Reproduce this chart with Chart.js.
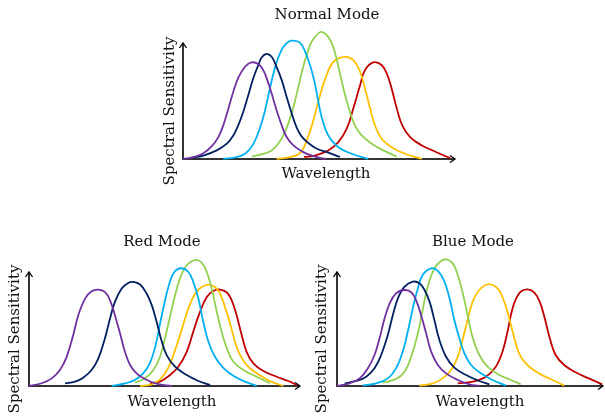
<!DOCTYPE html>
<html>
<head>
<meta charset="utf-8">
<script src="https://cdn.jsdelivr.net/npm/chart.js@4.4.1/dist/chart.umd.min.js"></script>
<style>
  html, body { margin: 0; padding: 0; background: #fff; }
  #wrap { position: relative; width: 605px; height: 416px; }
  canvas { position: absolute; left: 0; top: 0; }
</style>
</head>
<body>
<div id="wrap">
  <canvas id="normalChart" width="605" height="416"></canvas>
  <canvas id="redChart" width="605" height="416"></canvas>
  <canvas id="blueChart" width="605" height="416"></canvas>
</div>
<script>
// wavelength (0-100 along the axis), sensitivity (0-100 = top of axis)
const normalPurple = [[0,0],[3.8,1.6],[7.5,5],[10.5,10.8],[13,18.9],[14.8,29],[16.7,43.5],[18.5,58],[20.3,70],[22.8,79.5],[25.2,83.3],[27.7,81.8],[29.5,76.6],[31,68],[32.6,56.5],[34.4,42],[36.3,29],[38.1,18.9],[40.6,11.7],[44.2,5.9],[47.9,2.4],[52.5,0]];
const normalNavy = [[2.6,1],[7.5,3],[12.4,7.4],[16.1,13.2],[18.5,20.3],[20.3,29],[22.2,41],[24,55],[25.9,70],[27.7,81],[28.9,87.5],[30.7,90.7],[32.6,88.1],[34.4,79.5],[36.3,68],[38.1,53.5],[40,39.1],[41.8,27],[43.6,19.5],[46.1,13.7],[49.2,8.8],[53.4,5.5],[57.7,1.8]];
const normalCyan = [[14.8,0.2],[19.7,1.6],[22.8,4.5],[25.3,10.8],[27.3,20.3],[29.2,33.3],[31,50.6],[32.8,69.4],[34.7,85.3],[36.9,96.8],[39.3,101.7],[40.5,102],[43,100.3],[44.9,92.5],[46.7,81],[48.5,65],[49.7,50],[51,36],[53.4,20.3],[57.1,10.2],[62,4.5],[68.1,0]];
const normalGreen = [[25.3,2.2],[29.5,4.5],[32.6,7.4],[35,13.2],[36.9,20.3],[38.7,30.5],[40.6,44.8],[42.4,62.2],[44.2,79.5],[46.1,93.9],[47.3,101],[50.5,109.5],[52.8,106.9],[54.7,99.7],[56.1,89.6],[57.7,73.8],[59.6,55],[61.4,40.5],[63.2,29],[65.7,20.3],[69.4,13.2],[73.6,7.4],[78.6,2.2]];
const normalOrange = [[34.4,0.2],[39.3,1.6],[43,5],[45.5,16],[48,34],[50.4,55],[52.9,73],[55.6,84.5],[59.6,88.1],[62.6,85.3],[65.1,75.2],[66.9,60.8],[68.8,43.5],[70.6,29],[73,17.5],[76.7,10.2],[81.6,4.5],[87.8,0]];
const normalRed = [[44.5,1.8],[48.5,3],[53.4,7.4],[57.1,14.5],[60.2,26.1],[62.6,43.5],[65.1,63.6],[66.9,76.6],[70,83.3],[73,81],[74.9,73.8],[76.7,60.8],[78.6,43.5],[80.6,29],[83.5,18.9],[87.8,11.7],[92.6,6.5],[98.2,0.7]];

const redPurple = [[0,0],[4.7,2.4],[8.4,6.7],[11.4,14],[13.9,25.6],[16.3,44.6],[18.2,62.1],[20.7,76.7],[23.1,83.1],[25.6,84.6],[28,82.5],[29.9,75.2],[31.7,62.1],[33.6,46.1],[35.4,30],[37.3,18.4],[39.7,11.1],[42.8,6.1],[47,2],[52.7,0]];
const redNavy = [[13.3,2.4],[17,3.8],[20,7.3],[23.1,14],[25.6,24.2],[28,41.7],[29.9,59.2],[31.7,73.8],[34.2,85.5],[36.6,90.4],[38.5,91.3],[41,89],[43.4,81.1],[45.3,70.9],[47.1,56.3],[48.7,41.5],[50.8,27.1],[53.9,16.9],[58.2,9.6],[62.5,4.4],[66.8,0.9]];
const redCyan = [[30.5,0],[35.4,2.2],[39.1,5.4],[42.2,11.3],[44.6,20.1],[46.7,35.5],[48.3,54],[50,73],[51.7,89],[53.5,99.5],[56,103.3],[58.8,100],[60.6,91.3],[62.5,76.7],[64.3,56.3],[66.2,38.8],[68.6,25.6],[71.7,16],[75.4,9],[79.7,3.8],[84,0]];
const redGreen = [[39.1,2.9],[42.8,6.7],[45.9,14],[48.3,25.5],[50.5,45],[53.3,73.8],[55.7,94.2],[58.2,105.9],[61.3,110.5],[63.7,108.2],[65.6,100],[67.4,85.5],[69.3,65],[71.1,47.5],[73,33],[75.4,21.3],[79.1,14],[84,8.1],[88.9,2.4]];
const redOrange = [[41,0],[45.3,1.5],[48.3,5.5],[51.4,16],[53.9,31.5],[56.3,49],[58.8,68],[61.3,81.1],[63.7,86.9],[66.2,89],[68.6,86.9],[70.5,81.1],[72.3,69.4],[74.2,54.9],[76,38.8],[77.9,27.1],[80.3,18.4],[84,11.1],[88.9,4.4],[93.8,0]];
const redRed = [[44.6,2.4],[48.3,3.8],[52,9.6],[55.1,16.9],[58.2,30],[60.6,47.5],[63.1,65],[65.6,78.1],[68,83.4],[70.5,84.6],[73,82],[74.8,75.2],[76.6,62.1],[78.5,44.6],[80.3,30],[82.8,19.9],[86.5,13.1],[91.4,8.1],[95.7,4.4],[98.8,0.9]];

const bluePurple = [[0,0],[4.7,2.3],[8.5,6.7],[11.6,15.5],[14.1,27.2],[16,41.8],[17.9,59.4],[19.8,72.5],[22.2,81.3],[25.4,84.2],[27.9,82.2],[29.7,75.4],[31.6,62.3],[33.5,46.2],[35.4,30.1],[37.9,18.4],[41,11.1],[45.4,5.3],[49.8,1.5],[53.5,0]];
const blueNavy = [[2.9,2.3],[7.2,4.4],[11,8.2],[14.1,15.5],[16.6,27.2],[19.1,44.7],[21,62.3],[22.9,76.9],[25.4,87.1],[28.5,91.5],[31,90.1],[32.9,84.2],[34.8,74],[36.6,57.9],[38.5,40.4],[41,25.7],[44.1,16.1],[48.5,9.6],[53.5,4.4],[57.3,1.5]];
const blueCyan = [[9.7,0.3],[14.7,2.3],[19.1,6.7],[22.2,15.5],[24.7,30.1],[26.6,47.6],[28.5,68.1],[30.4,85.7],[32.2,97.4],[35.4,103.2],[37.9,100.9],[40.4,91.5],[42.3,76.9],[44.1,57.9],[46,41.8],[47.9,28.7],[50.4,18.4],[54.1,11.1],[58.5,5.3],[63.5,0.3]];
const blueGreen = [[17.2,2.9],[22.2,6.1],[25.4,12.5],[27.9,25.7],[30.4,46.2],[32.2,66.7],[34.1,87.1],[36.6,103.2],[39.1,109.6],[41,111.1],[43.5,107.6],[45.4,97.4],[47.2,82.2],[49.1,62.3],[51,42.4],[53.5,27.2],[56.6,16.9],[61,9.6],[65.4,5.3],[69.1,1.5]];
const blueOrange = [[31,0.3],[36,2.3],[39.7,6.7],[42.9,14],[45.4,25.7],[47.2,40.4],[49.1,57.9],[51,74],[53.5,84.2],[56.6,89.2],[59.7,87.1],[61.6,81.3],[63.5,69.6],[65.4,53.5],[67.2,37.4],[69.1,25.7],[72.3,16.9],[76.6,10.2],[81,5.3],[85.4,0.3]];
const blueRed = [[45.4,2.3],[51,3.8],[56,8.2],[59.7,16.9],[62.2,30.1],[64.1,47.6],[66,68.1],[68.5,81.3],[71.4,84.8],[74.1,82.2],[76.2,74],[78.1,59.4],[80,41.8],[82.2,27.2],[85.4,18.4],[89.7,12],[94.7,6.7],[99.7,1.5]];

const seriesColors = ['#7030A0', '#002060', '#00B0F0', '#92D050', '#FFC000', '#C00000'];
const panelTitles = ['Normal Mode', 'Red Mode', 'Blue Mode'];
const xLabel = 'Wavelength';
const yLabel = 'Spectral Sensitivity';

const FONT = '15px "DejaVu Serif", serif';

// axes with arrow heads plus the three texts of a panel
const sketchAxes = {
  id: 'sketchAxes',
  beforeDatasetsDraw(chart, args, opts) {
    const {ctx, chartArea: a} = chart;
    ctx.save();
    ctx.strokeStyle = '#333';
    ctx.lineWidth = 2;
    ctx.beginPath();
    ctx.moveTo(a.left, a.top + 1);
    ctx.lineTo(a.left, a.bottom);
    ctx.lineTo(a.right - 1, a.bottom);
    ctx.stroke();
    ctx.strokeStyle = '#000';
    ctx.lineWidth = 1.3;
    ctx.beginPath();
    ctx.moveTo(a.left - 3.5, a.top + 5);
    ctx.lineTo(a.left, a.top);
    ctx.lineTo(a.left + 3.5, a.top + 5);
    ctx.moveTo(a.right - 5, a.bottom - 3.5);
    ctx.lineTo(a.right, a.bottom);
    ctx.lineTo(a.right - 5, a.bottom + 3.5);
    ctx.stroke();

    ctx.fillStyle = '#111';
    ctx.font = FONT;
    ctx.textAlign = 'center';
    ctx.textBaseline = 'middle';
    ctx.fillText(opts.title, opts.titlePos[0], opts.titlePos[1]);
    ctx.fillText(xLabel, opts.xPos[0], opts.xPos[1]);
    ctx.translate(opts.yPos[0], opts.yPos[1]);
    ctx.rotate(-Math.PI / 2);
    ctx.fillText(yLabel, 0, 0);
    ctx.restore();
  }
};

function makeChart(id, curves, padding, texts) {
  const datasets = curves.map((pts, i) => ({
    data: pts.map(p => ({x: p[0], y: p[1]})),
    borderColor: seriesColors[i],
    borderWidth: 1.8,
    pointRadius: 0,
    tension: 0.4,
    fill: false,
    clip: false
  }));
  return new Chart(document.getElementById(id), {
    type: 'line',
    data: {datasets},
    options: {
      responsive: false,
      animation: false,
      devicePixelRatio: 1,
      events: [],
      layout: {padding},
      scales: {
        x: {type: 'linear', min: 0, max: 100, display: false},
        y: {min: 0, max: 100, display: false}
      },
      plugins: {
        legend: {display: false},
        tooltip: {enabled: false},
        sketchAxes: texts
      }
    },
    plugins: [sketchAxes]
  });
}

makeChart('normalChart',
  [normalPurple, normalNavy, normalCyan, normalGreen, normalOrange, normalRed],
  {left: 183, top: 43, right: 150, bottom: 257},
  {title: panelTitles[0], titlePos: [327, 15], xPos: [326, 174], yPos: [170, 111]});

makeChart('redChart',
  [redPurple, redNavy, redCyan, redGreen, redOrange, redRed],
  {left: 29, top: 272, right: 305, bottom: 30},
  {title: panelTitles[1], titlePos: [162, 242], xPos: [172, 402], yPos: [15, 339]});

makeChart('blueChart',
  [bluePurple, blueNavy, blueCyan, blueGreen, blueOrange, blueRed],
  {left: 337, top: 272, right: 2, bottom: 30},
  {title: panelTitles[2], titlePos: [473, 242], xPos: [480, 402], yPos: [322, 339]});
</script>
</body>
</html>
